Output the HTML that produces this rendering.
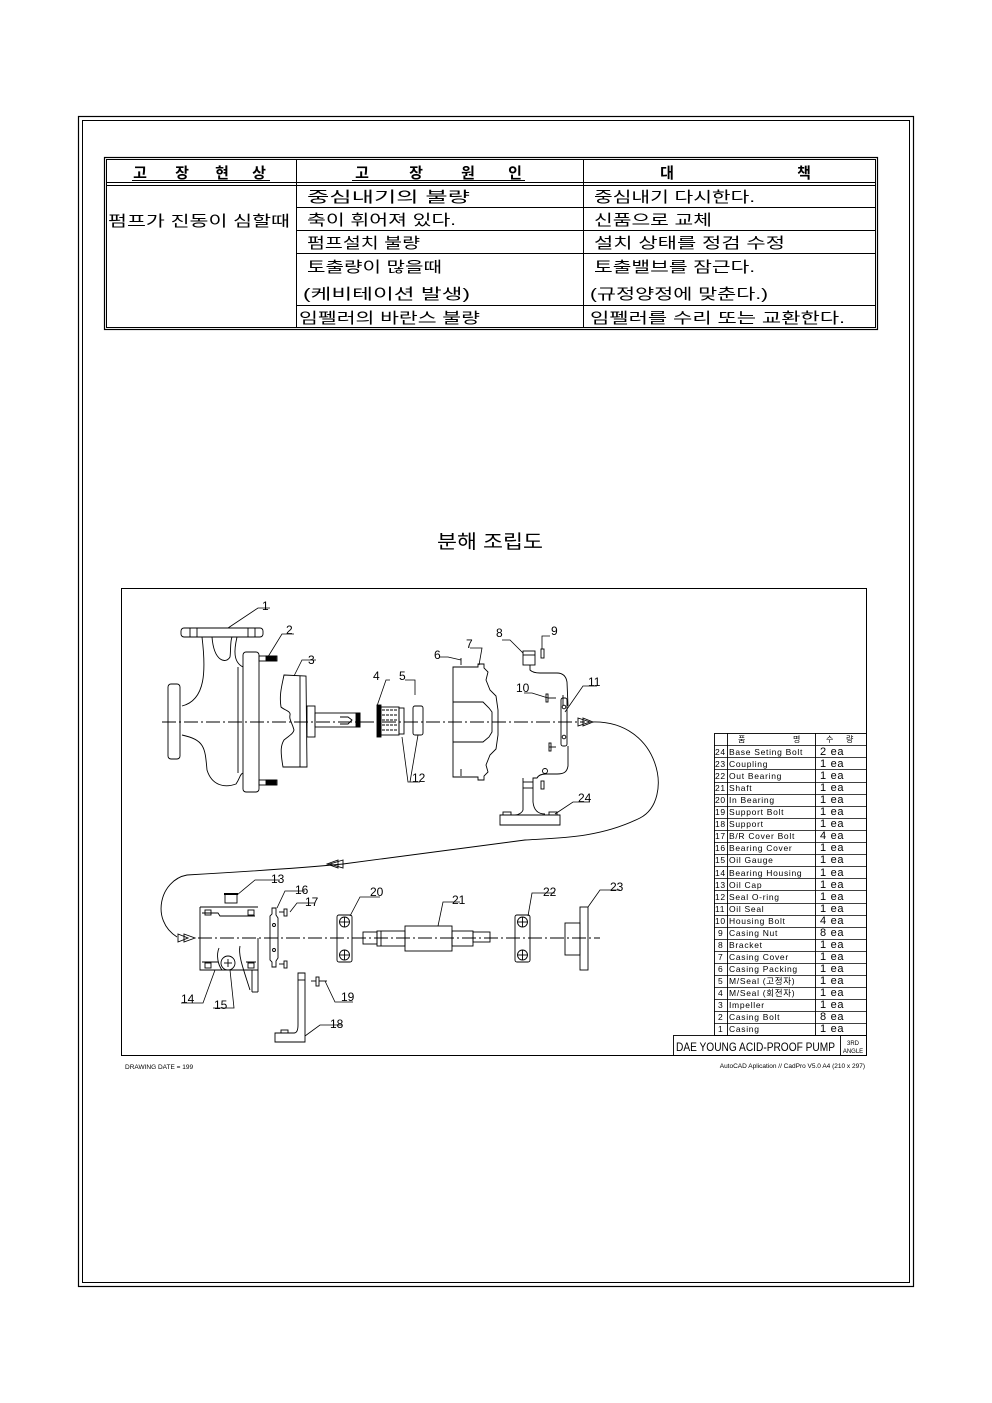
<!DOCTYPE html>
<html><head><meta charset="utf-8">
<style>
html,body{margin:0;padding:0;background:#fff}
body{width:992px;height:1403px;position:relative;overflow:hidden;font-family:"Liberation Sans","Noto Sans CJK KR",sans-serif}
svg{position:absolute;left:0;top:0}
.k{font-family:"Liberation Sans","Noto Sans CJK KR",sans-serif}
</style></head><body>
<svg width="992" height="1403" viewBox="0 0 992 1403" xmlns="http://www.w3.org/2000/svg">
<g fill="none" stroke="#000">
<rect x="78.5" y="116.5" width="835" height="1170" stroke-width="1.2"/>
<rect x="82.5" y="120.5" width="827" height="1162" stroke-width="1"/>
<rect x="104.5" y="157.5" width="773" height="172" stroke-width="1.2"/>
<rect x="106.5" y="159.5" width="769" height="168"/>
<line x1="106" y1="182.5" x2="876" y2="182.5"/>
<line x1="106" y1="185.5" x2="876" y2="185.5"/>
<line x1="296.5" y1="160" x2="296.5" y2="328"/>
<line x1="583.5" y1="160" x2="583.5" y2="328"/>
<line x1="296" y1="207.5" x2="876" y2="207.5"/>
<line x1="296" y1="230.5" x2="876" y2="230.5"/>
<line x1="296" y1="253.5" x2="876" y2="253.5"/>
<line x1="296" y1="305.5" x2="876" y2="305.5"/>
<line x1="132" y1="180.5" x2="270" y2="180.5"/>
<line x1="352" y1="180.5" x2="525" y2="180.5"/>
<rect x="121.5" y="588.5" width="745" height="467"/>
</g>
<g class="k" font-size="15" fill="#000">
<g font-weight="bold" text-anchor="middle">
<text x="140" y="178">고</text><text x="182" y="178">장</text><text x="222" y="178">현</text><text x="259" y="178">상</text>
<text x="362" y="178">고</text><text x="416" y="178">장</text><text x="468" y="178">원</text><text x="515" y="178">인</text>
<text x="667" y="178">대</text><text x="804" y="178">책</text>
</g>
<text x="108" y="226" textLength="182" lengthAdjust="spacingAndGlyphs">펌프가 진동이 심할때</text>
<text x="307" y="202" textLength="163" lengthAdjust="spacingAndGlyphs">중심내기의 불량</text>
<text x="307" y="225" textLength="149" lengthAdjust="spacingAndGlyphs">축이 휘어져 있다.</text>
<text x="307" y="248" textLength="113" lengthAdjust="spacingAndGlyphs">펌프설치 불량</text>
<text x="307" y="272" textLength="135" lengthAdjust="spacingAndGlyphs">토출량이 많을때</text>
<text x="303" y="299" textLength="167" lengthAdjust="spacingAndGlyphs">(케비테이션 발생)</text>
<text x="299" y="323" textLength="181" lengthAdjust="spacingAndGlyphs">임펠러의 바란스 불량</text>
<text x="594" y="202" textLength="161" lengthAdjust="spacingAndGlyphs">중심내기 다시한다.</text>
<text x="594" y="225" textLength="118" lengthAdjust="spacingAndGlyphs">신품으로 교체</text>
<text x="594" y="248" textLength="191" lengthAdjust="spacingAndGlyphs">설치 상태를 정검 수정</text>
<text x="594" y="272" textLength="161" lengthAdjust="spacingAndGlyphs">토출밸브를 잠근다.</text>
<text x="590" y="299" textLength="178" lengthAdjust="spacingAndGlyphs">(규정양정에 맞춘다.)</text>
<text x="590" y="323" textLength="255" lengthAdjust="spacingAndGlyphs">임펠러를 수리 또는 교환한다.</text>
<text x="437" y="548" font-size="19" textLength="106" lengthAdjust="spacingAndGlyphs">분해 조립도</text>
</g>

<g fill="none" stroke="#000" stroke-width="0.9">
<line x1="162" y1="722" x2="585" y2="722" stroke-dasharray="14,3,2,3"/>
<line x1="198" y1="938" x2="600" y2="938" stroke-dasharray="14,3,2,3"/>
<rect x="181" y="628" width="82" height="9" rx="3"/>
<line x1="190" y1="628" x2="190" y2="637"/><line x1="197" y1="628" x2="197" y2="637"/>
<line x1="248" y1="628" x2="248" y2="637"/><line x1="255" y1="628" x2="255" y2="637"/>
<path d="M202,637 C206,670 206,700 182,706 M182,735 C205,740 205,748 207,770 C212,786 225,788 236,784 C240,778 240,774 243,773"/>
<path d="M212,637 C214,662 226,664 230,657 C231,650 230,642 232,637"/>
<path d="M237,637 C234,650 233,662 243,667"/>
<rect x="168" y="684" width="12" height="75" rx="3"/>
<line x1="238" y1="667" x2="238" y2="773"/>
<rect x="243" y="652" width="16" height="140" rx="3"/>
<rect x="259" y="656" width="18" height="5"/><rect x="266" y="656" width="10" height="5" fill="#000"/>
<rect x="259" y="780" width="18" height="5"/><rect x="266" y="780" width="10" height="5" fill="#000"/>
<path d="M284,675 L306,676 L307,767 L283,767 C280,750 281,745 284,740 C290,735 293,734 294,730 C292,722 289,720 290,715 C291,711 284,710 281,707 C279,695 282,685 284,675 Z"/>
<line x1="300" y1="676" x2="300" y2="767"/>
<rect x="307" y="706" width="8" height="31"/>
<rect x="315" y="713" width="45" height="14"/>
<rect x="356" y="713" width="4" height="14" fill="#000"/>
<path d="M340,717 L348,717 L352,720 L348,724 L340,724"/>
<rect x="377" y="705" width="4" height="32" fill="#000"/>
<rect x="381" y="707" width="18" height="28"/>
<path d="M382,710 h16 M382,715 h16 M382,720 h16 M382,725 h16 M382,730 h16" stroke-dasharray="3,1"/>
<rect x="399" y="708" width="5" height="26"/>
<rect x="413" y="706" width="10" height="29" rx="2"/>
<path d="M453,667 L478,667 L478,664 L484,664 L484,668 L488,672 L486,680 L490,690 L496,696 L498,710 L498,735 L496,749 L490,755 L486,765 L488,772 L484,776 L484,780 L478,780 L478,777 L453,777 Z"/>
<path d="M453,702 L483,702 L489,708 L492,712 L492,732 L489,737 L483,742 L453,742"/>
<line x1="461" y1="658" x2="461" y2="665"/><line x1="461" y1="769" x2="461" y2="776"/>
<rect x="523" y="651" width="12" height="14"/>
<line x1="523" y1="655" x2="535" y2="655"/>
<rect x="541" y="649" width="3" height="9"/>
<path d="M530,665 L530,670 C532,672 536,673 540,673 L557,673 C563,673 566,676 567,682 L568,706 M563,695 L563,706"/>
<rect x="561" y="698" width="6" height="48" rx="2"/>
<circle cx="564" cy="707" r="1.8"/><circle cx="564" cy="737" r="1.8"/>
<path d="M568,746 L568,766 C567,772 564,774 557,774 L546,774 C540,774 538,776 537,778 L533,778 L533,802 C534,812 540,814 545,814 M523,778 L523,810 C522,813 518,815 515,815"/>
<line x1="523" y1="782" x2="533" y2="782"/><line x1="523" y1="788" x2="533" y2="788"/>
<circle cx="545" cy="771" r="2.5"/>
<rect x="541" y="781" width="3" height="8"/>
<path d="M500,815 L560,815 L560,825 L500,825 Z"/>
<rect x="503" y="812" width="8" height="3"/><rect x="549" y="812" width="8" height="3"/>
<line x1="548" y1="698" x2="556" y2="698"/><rect x="546" y="694" width="2" height="8"/>
<line x1="549" y1="747" x2="556" y2="747"/><rect x="549" y="743" width="2" height="8"/>
<path d="M592,722 C660,720 675,800 640,818 C600,838 560,838 525,840 L343,864 C300,868 240,872 187,875 C160,880 150,920 177,937"/>
<path d="M578,718 L590,722 L578,726 Z M583,718 L593,722 L583,726 Z"/>
<path d="M178,934 L188,938 L178,942 Z M184,934 L195,938 L184,942 Z"/>
<path d="M343,860 L330,864 L343,868 Z M338,860 L327,864 L338,868 Z"/>
<path d="M200,907 L258,907 M200,907 L200,970 L258,970 M258,938 L258,970"/>
<path d="M202,913 L218,913 L220,916 L255,916 M202,962 L218,962 M246,962 L256,962"/>
<rect x="205" y="910" width="6" height="5"/><rect x="248" y="910" width="6" height="5"/>
<rect x="205" y="963" width="6" height="5"/><rect x="248" y="963" width="6" height="5"/>
<line x1="252" y1="970" x2="252" y2="992"/><line x1="258" y1="970" x2="258" y2="992"/><line x1="252" y1="992" x2="258" y2="992"/>
<path d="M219,948 C216,955 218,965 222,970 M240,946 C238,955 243,968 250,990"/>
<circle cx="228" cy="963" r="7"/><line x1="224" y1="963" x2="232" y2="963"/><line x1="228" y1="959" x2="228" y2="967"/>
<rect x="225" y="894" width="12" height="9"/><line x1="224" y1="894" x2="238" y2="894" stroke-width="2"/>
<path d="M272,908 L276,908 L276,915 L278,918 L278,958 L276,961 L276,967 L272,967 L272,962 L270,960 L270,916 L272,914 Z"/>
<circle cx="274" cy="925" r="1.5"/><circle cx="274" cy="950" r="1.5"/>
<rect x="284" y="909" width="3" height="7"/><line x1="279" y1="912" x2="284" y2="912"/>
<rect x="284" y="961" width="3" height="7"/><line x1="279" y1="964" x2="284" y2="964"/>
<rect x="337" y="915" width="15" height="47" rx="2"/>
<circle cx="344.5" cy="922" r="5"/><line x1="339.5" y1="922" x2="349.5" y2="922"/><line x1="344.5" y1="917" x2="344.5" y2="927"/>
<circle cx="344.5" cy="955" r="5"/><line x1="339.5" y1="955" x2="349.5" y2="955"/><line x1="344.5" y1="950" x2="344.5" y2="960"/>
<rect x="363" y="932" width="14" height="12"/>
<rect x="377" y="931" width="28" height="15"/><line x1="381" y1="931" x2="381" y2="946"/>
<rect x="405" y="926" width="47" height="25"/>
<rect x="452" y="931" width="21" height="15"/>
<rect x="473" y="932" width="17" height="10"/>
<rect x="515" y="915" width="15" height="47" rx="2"/>
<circle cx="522.5" cy="922" r="5"/><line x1="517.5" y1="922" x2="527.5" y2="922"/><line x1="522.5" y1="917" x2="522.5" y2="927"/>
<circle cx="522.5" cy="955" r="5"/><line x1="517.5" y1="955" x2="527.5" y2="955"/><line x1="522.5" y1="950" x2="522.5" y2="960"/>
<rect x="565" y="923" width="15" height="32"/>
<rect x="580" y="907" width="8" height="63"/>
<path d="M298,973 L305,973 L305,1042 L275,1042 L275,1033 L294,1033 C297,1033 298,1030 298,1025 Z"/>
<line x1="298" y1="980" x2="305" y2="980"/>
<rect x="281" y="1030" width="7" height="3"/>
<rect x="316" y="977" width="3" height="9"/><line x1="311" y1="981" x2="316" y2="981"/><line x1="319" y1="981" x2="327" y2="981"/>
</g>

<g fill="none" stroke="#000" stroke-width="0.8">
<path d="M228,628 L258,608 L270,608"/><path d="M266,660 L282,634 L294,634"/>
<path d="M294,676 L302,660 L316,660"/><path d="M377,706 L386,680 L390,680"/>
<path d="M415,695 L415,680 L405,680"/><path d="M402,737 L408,782 L420,782 M418,735 L410,782"/>
<path d="M461,660 L448,657 L440,657"/><path d="M479,665 L482,648 L470,648"/>
<path d="M523,653 L510,640 L502,640"/><path d="M542,649 L542,636 L550,636"/>
<path d="M548,698 L532,693 L524,693"/><path d="M565,712 L583,686 L597,686"/>
<path d="M555,814 L573,802 L590,802"/>
<path d="M237,895 L255,880 L280,880"/><path d="M277,908 L285,891 L305,891"/>
<path d="M290,912 L297,903 L315,903"/><path d="M350,916 L360,897 L380,897"/>
<path d="M438,926 L443,902 L460,902"/><path d="M528,916 L532,893 L555,893"/>
<path d="M588,907 L600,890 L620,890"/>
<path d="M215,970 L203,1003 L181,1003"/><path d="M230,970 L234,1008 L213,1008"/>
<path d="M325,981 L335,1002 L353,1002"/><path d="M305,1036 L320,1025 L342,1025"/>
</g>
<g font-size="12" fill="#000" font-family="Liberation Sans,sans-serif">
<text x="262" y="610">1</text><text x="286" y="634">2</text><text x="308" y="664">3</text>
<text x="373" y="680">4</text><text x="399" y="680">5</text><text x="412" y="782">12</text>
<text x="434" y="659">6</text><text x="466" y="648">7</text><text x="496" y="637">8</text>
<text x="551" y="635">9</text><text x="516" y="692">10</text><text x="588" y="686">11</text>
<text x="578" y="802">24</text><text x="271" y="883">13</text><text x="295" y="894">16</text>
<text x="305" y="906">17</text><text x="370" y="896">20</text><text x="452" y="904">21</text>
<text x="543" y="896">22</text><text x="610" y="891">23</text><text x="181" y="1003">14</text>
<text x="214" y="1009">15</text><text x="341" y="1001">19</text><text x="330" y="1028">18</text>
</g>

<g fill="none" stroke="#000" stroke-width="0.9">
<rect x="714.5" y="733.5" width="152" height="302"/>
<line x1="727.5" y1="733" x2="727.5" y2="1036"/>
<line x1="815.5" y1="733" x2="815.5" y2="1036"/>
<rect x="673.5" y="1035.5" width="193" height="20"/>
<line x1="840.5" y1="1036" x2="840.5" y2="1056"/>
</g>
<g font-family="Liberation Sans,sans-serif" fill="#000">
<text x="676" y="1051" font-size="12" textLength="159" lengthAdjust="spacingAndGlyphs">DAE YOUNG ACID-PROOF PUMP</text>
<text x="853" y="1045" font-size="6" text-anchor="middle">3RD</text>
<text x="853" y="1053" font-size="6" text-anchor="middle">ANGLE</text>
<text x="125" y="1069" font-size="6.5">DRAWING DATE  =  199</text>
<text x="865" y="1068" font-size="6.5" text-anchor="end">AutoCAD Aplication // CadPro V5.0 A4 (210 x 297)</text>
</g>
<g font-family="Liberation Sans,Noto Sans CJK KR,sans-serif" fill="#000" font-size="8">
<text x="738" y="742">품</text><text x="793" y="742">명</text><text x="826" y="742">수</text><text x="846" y="742">량</text>
</g>
<g stroke="#000" stroke-width="0.8">
<line x1="714" y1="745.5" x2="866" y2="745.5"/><line x1="714" y1="757.5" x2="866" y2="757.5"/>
<line x1="714" y1="769.5" x2="866" y2="769.5"/><line x1="714" y1="782.5" x2="866" y2="782.5"/>
<line x1="714" y1="794.5" x2="866" y2="794.5"/><line x1="714" y1="806.5" x2="866" y2="806.5"/>
<line x1="714" y1="818.5" x2="866" y2="818.5"/><line x1="714" y1="830.5" x2="866" y2="830.5"/>
<line x1="714" y1="842.5" x2="866" y2="842.5"/><line x1="714" y1="854.5" x2="866" y2="854.5"/>
<line x1="714" y1="866.5" x2="866" y2="866.5"/><line x1="714" y1="878.5" x2="866" y2="878.5"/>
<line x1="714" y1="890.5" x2="866" y2="890.5"/><line x1="714" y1="903.5" x2="866" y2="903.5"/>
<line x1="714" y1="915.5" x2="866" y2="915.5"/><line x1="714" y1="927.5" x2="866" y2="927.5"/>
<line x1="714" y1="939.5" x2="866" y2="939.5"/><line x1="714" y1="951.5" x2="866" y2="951.5"/>
<line x1="714" y1="963.5" x2="866" y2="963.5"/><line x1="714" y1="975.5" x2="866" y2="975.5"/>
<line x1="714" y1="987.5" x2="866" y2="987.5"/><line x1="714" y1="999.5" x2="866" y2="999.5"/>
<line x1="714" y1="1011.5" x2="866" y2="1011.5"/><line x1="714" y1="1023.5" x2="866" y2="1023.5"/>
</g>
<g font-family="Liberation Sans,Noto Sans CJK KR,sans-serif" fill="#000" font-size="8.5" letter-spacing="0.7">
<text x="715" y="755">24</text><text x="729" y="755">Base Seting Bolt</text><text x="820" y="755" font-size="11">2 ea</text>
<text x="715" y="767">23</text><text x="729" y="767">Coupling</text><text x="820" y="767" font-size="11">1 ea</text>
<text x="715" y="779">22</text><text x="729" y="779">Out Bearing</text><text x="820" y="779" font-size="11">1 ea</text>
<text x="715" y="791">21</text><text x="729" y="791">Shaft</text><text x="820" y="791" font-size="11">1 ea</text>
<text x="715" y="803">20</text><text x="729" y="803">In Bearing</text><text x="820" y="803" font-size="11">1 ea</text>
<text x="715" y="815">19</text><text x="729" y="815">Support Bolt</text><text x="820" y="815" font-size="11">1 ea</text>
<text x="715" y="827">18</text><text x="729" y="827">Support</text><text x="820" y="827" font-size="11">1 ea</text>
<text x="715" y="839">17</text><text x="729" y="839">B/R Cover Bolt</text><text x="820" y="839" font-size="11">4 ea</text>
<text x="715" y="851">16</text><text x="729" y="851">Bearing Cover</text><text x="820" y="851" font-size="11">1 ea</text>
<text x="715" y="863">15</text><text x="729" y="863">Oil Gauge</text><text x="820" y="863" font-size="11">1 ea</text>
<text x="715" y="876">14</text><text x="729" y="876">Bearing Housing</text><text x="820" y="876" font-size="11">1 ea</text>
<text x="715" y="888">13</text><text x="729" y="888">Oil Cap</text><text x="820" y="888" font-size="11">1 ea</text>
<text x="715" y="900">12</text><text x="729" y="900">Seal O-ring</text><text x="820" y="900" font-size="11">1 ea</text>
<text x="715" y="912">11</text><text x="729" y="912">Oil Seal</text><text x="820" y="912" font-size="11">1 ea</text>
<text x="715" y="924">10</text><text x="729" y="924">Housing Bolt</text><text x="820" y="924" font-size="11">4 ea</text>
<text x="718" y="936">9</text><text x="729" y="936">Casing Nut</text><text x="820" y="936" font-size="11">8 ea</text>
<text x="718" y="948">8</text><text x="729" y="948">Bracket</text><text x="820" y="948" font-size="11">1 ea</text>
<text x="718" y="960">7</text><text x="729" y="960">Casing Cover</text><text x="820" y="960" font-size="11">1 ea</text>
<text x="718" y="972">6</text><text x="729" y="972">Casing Packing</text><text x="820" y="972" font-size="11">1 ea</text>
<text x="718" y="984">5</text><text x="729" y="984">M/Seal (고정자)</text><text x="820" y="984" font-size="11">1 ea</text>
<text x="718" y="996">4</text><text x="729" y="996">M/Seal (회전자)</text><text x="820" y="996" font-size="11">1 ea</text>
<text x="718" y="1008">3</text><text x="729" y="1008">Impeller</text><text x="820" y="1008" font-size="11">1 ea</text>
<text x="718" y="1020">2</text><text x="729" y="1020">Casing Bolt</text><text x="820" y="1020" font-size="11">8 ea</text>
<text x="718" y="1032">1</text><text x="729" y="1032">Casing</text><text x="820" y="1032" font-size="11">1 ea</text>
</g>
</svg>
</body></html>
